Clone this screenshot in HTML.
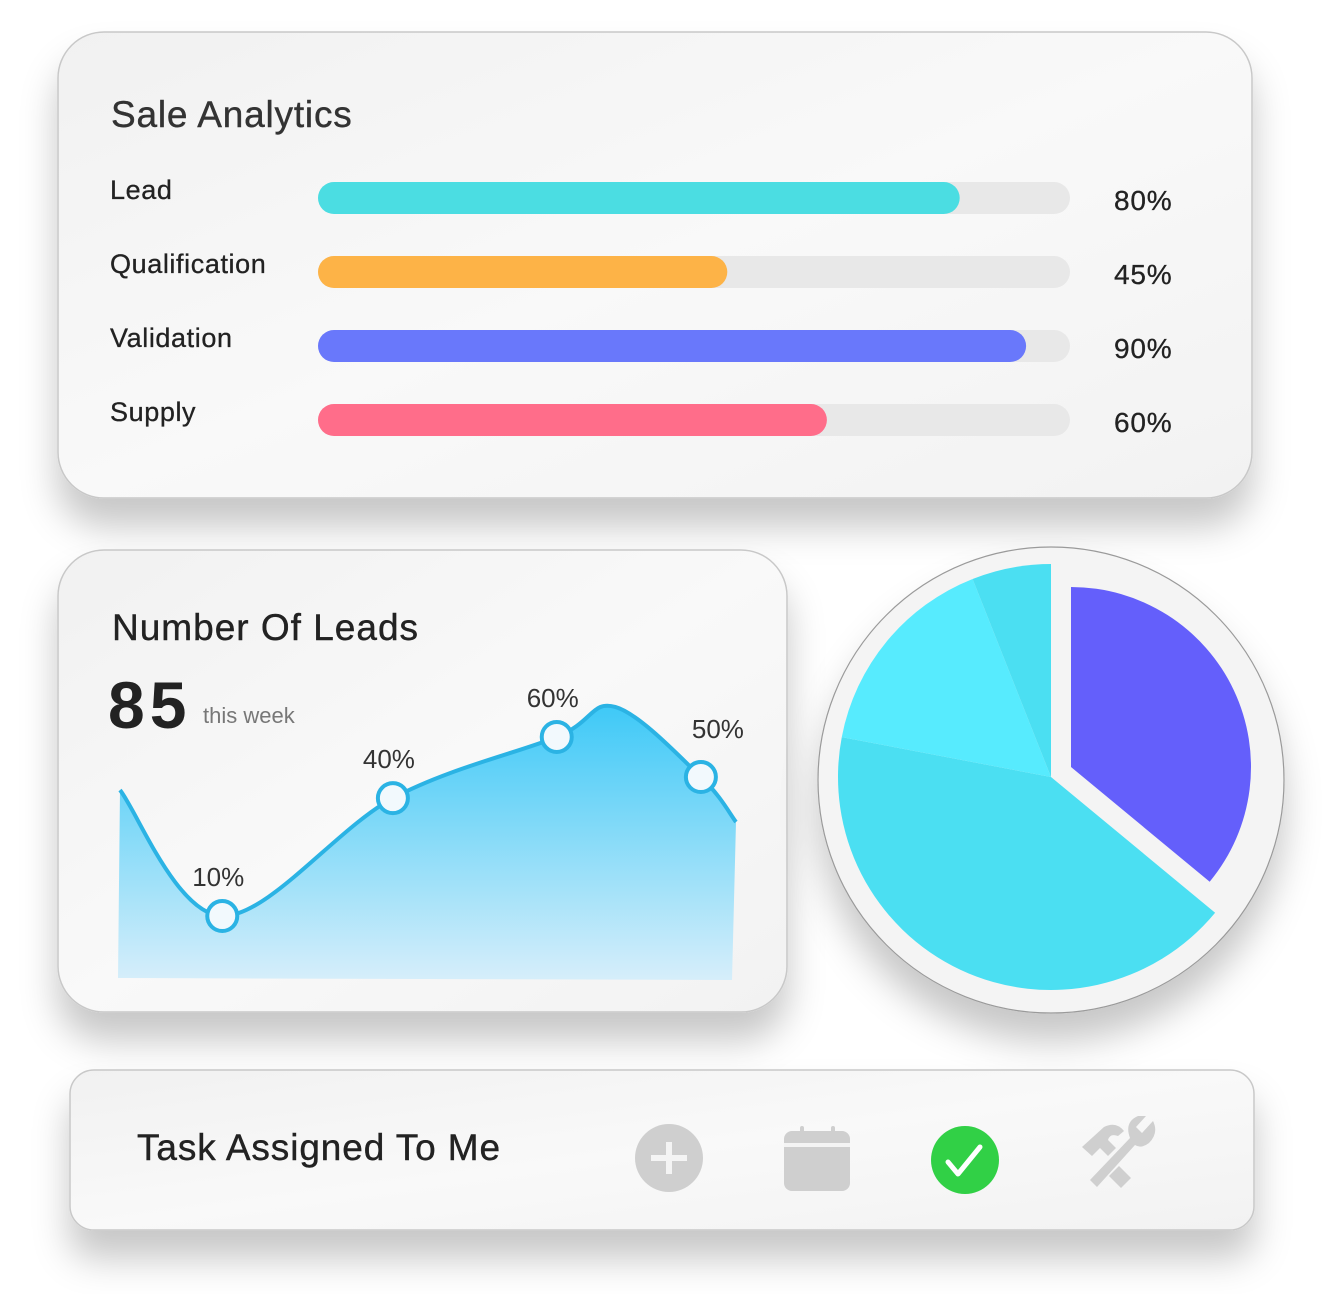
<!DOCTYPE html>
<html><head><meta charset="utf-8">
<style>
html,body{margin:0;padding:0;background:#fff;}
body{width:1338px;height:1315px;position:relative;overflow:hidden;font-family:"Liberation Sans",sans-serif;}
svg{position:absolute;left:0;top:0;}
</style></head>
<body>
<svg id="chart" width="1338" height="1315" viewBox="0 0 1338 1315" xmlns="http://www.w3.org/2000/svg">
<defs>
<linearGradient id="cardg" x1="0" y1="0" x2="1" y2="1"><stop offset="0" stop-color="#f1f1f1"/><stop offset="0.5" stop-color="#f9f9f9"/><stop offset="1" stop-color="#f2f2f2"/></linearGradient>
<linearGradient id="areag" x1="0" y1="0" x2="0" y2="1"><stop offset="0" stop-color="#3ec9f7"/><stop offset="1" stop-color="#d6eefa"/></linearGradient>
<filter id="sh" x="-20%" y="-20%" width="140%" height="160%"><feDropShadow dx="0" dy="28" stdDeviation="18" flood-color="#000" flood-opacity="0.22"/></filter>
</defs>
<g>
<rect x="58" y="32" width="1194" height="466" rx="46" fill="url(#cardg)" stroke="#c8c8c8" stroke-width="1.5" filter="url(#sh)"/>
<text x="111" y="127" font-size="37" fill="#333" letter-spacing="0.8" stroke="#333" stroke-width="0.4">Sale Analytics</text>
<g id="bars"></g>
</g>
<g>
<rect x="58" y="550" width="729" height="462" rx="46" fill="url(#cardg)" stroke="#c8c8c8" stroke-width="1.5" filter="url(#sh)"/>
<text x="112" y="640" font-size="37" fill="#222" letter-spacing="1" stroke="#222" stroke-width="0.4">Number Of Leads</text>
<text x="108" y="728" font-size="66" font-weight="bold" fill="#222" letter-spacing="5">85</text>
<text x="203" y="723" font-size="22" fill="#777">this week</text>
<g id="line"></g>
</g>
<g>
<circle cx="1051" cy="780" r="233" fill="#f4f4f4" stroke="#9a9a9a" stroke-width="1.2" filter="url(#sh)"/>
<g id="pie"></g>
</g>
<g>
<rect x="70" y="1070" width="1184" height="160" rx="24" fill="url(#cardg)" stroke="#c8c8c8" stroke-width="1.5" filter="url(#sh)"/>
<text x="137" y="1160" font-size="37" fill="#222" letter-spacing="0.9" stroke="#222" stroke-width="0.4">Task Assigned To Me</text>
<g><circle cx="669" cy="1158" r="34" fill="#cfcfcf"/><rect x="651" y="1155" width="36" height="6" fill="#f4f4f4"/><rect x="666" y="1142" width="6" height="32" fill="#f4f4f4"/></g>
<g><rect x="784" y="1131" width="66" height="60" rx="8" fill="#cfcfcf"/><rect x="784" y="1143" width="66" height="4" fill="#f4f4f4"/><rect x="800" y="1126" width="4" height="8" rx="2" fill="#cfcfcf"/><rect x="831" y="1126" width="4" height="8" rx="2" fill="#cfcfcf"/></g>
<g><ellipse cx="965" cy="1160" rx="34" ry="34" fill="#31d046"/><polyline points="948,1162 958,1174 980,1147" fill="none" stroke="#fff" stroke-width="5" stroke-linecap="round" stroke-linejoin="round"/></g>
<g fill="#cfcfcf" transform="translate(20,2)">
<path d="M1062,1145 l22,-20 q12,-6 20,4 l-6,5 q-8,-3 -10,4 l8,8 -8,8 -8,-8 -8,8 z"/>
<path d="M1070,1178 l40,-42 q-6,-16 8,-22 l8,0 -10,11 6,6 11,-12 q6,12 -4,22 q-8,6 -14,2 l-38,42 z"/>
<path d="M1089,1174 l10,-10 12,12 -10,10 z"/>
</g>
</g>
</svg>
<script>
const NS='http://www.w3.org/2000/svg';
// bar data
const barLabels=['Lead','Qualification','Validation','Supply'];
const barValues=[80,45,90,60];
const barColors=['#4bdde2','#fdb347','#6978fb','#ff6d8a'];
// line data
const lineX=[0,16.6,44.3,70.9,80.4,94.3,100];
const lineY=[67.6,22.3,64.7,86.7,97.5,72.3,56.1];
const markerIdx=[1,2,3,5];
const markerLabels=['10%','40%','60%','50%'];
// pie data
const pieValues=[36,42,16,6];
const pieColors=['#645ffb','#4bdff2','#57ebfe','#4bdff2'];

function mk(tag,attrs,parent){const e=document.createElementNS(NS,tag);for(const k in attrs)e.setAttribute(k,attrs[k]);parent.appendChild(e);return e;}

// bars
const bx=v=>428.5+6.64*v;
const bars=document.getElementById('bars');
barValues.forEach((v,i)=>{
  const cy=198+74*i;
  const lab=mk('text',{x:110,y:cy+1,'font-size':27,fill:'#222','letter-spacing':0.6,stroke:'#222','stroke-width':0.3},bars);
  
  
  lab.textContent=barLabels[i];
  const tr=mk('rect',{x:318,y:cy-16,width:752,height:32,rx:16,fill:'#e8e8e8'},bars);
  
  
  const f=mk('rect',{x:318,y:cy-16,width:bx(v)-318,height:32,rx:16,fill:barColors[i]},bars);
  
  
  const t=mk('text',{x:1114,y:cy+12,'font-size':28,fill:'#222','letter-spacing':0.8,stroke:'#222','stroke-width':0.3},bars);
  
  
  t.textContent=v+'%';
});

// line
const lx=v=>120+v*6.16, ly=v=>978-v*2.78;
const pts=lineX.map((x,i)=>[lx(x),ly(lineY[i])]);
function cr(p){let d='M'+p[0][0]+','+p[0][1];for(let i=0;i<p.length-1;i++){const p0=p[Math.max(0,i-1)],p1=p[i],p2=p[i+1],p3=p[Math.min(p.length-1,i+2)];const c1=[p1[0]+(p2[0]-p0[0])/6,p1[1]+(p2[1]-p0[1])/6],c2=[p2[0]-(p3[0]-p1[0])/6,p2[1]-(p3[1]-p1[1])/6];d+=' C'+c1+' '+c2+' '+p2;}return d;}
const lg=document.getElementById('line');
const d=cr(pts);
const area=mk('path',{d:d+' L'+(lx(100)-4)+',980 L118,978 Z',fill:'url(#areag)'},lg);


const ln=mk('path',{d:d,fill:'none',stroke:'#2bb3e4','stroke-width':4},lg);


markerIdx.forEach((k,i)=>{
  const [x,y]=pts[k];
  const c=mk('circle',{cx:x,cy:y,r:15,fill:'#f2f9fd',stroke:'#2bb3e4','stroke-width':4},lg);
  
  
  const t=mk('text',{x:x-4,y:y-30,'font-size':26,fill:'#333','text-anchor':'middle'},lg);
  if(i===3){t.setAttribute('x',x+17);t.setAttribute('y',y-39);}
  
  
  t.textContent=markerLabels[i];
});

// pie
const pg=document.getElementById('pie');
const tot=pieValues.reduce((a,b)=>a+b,0);
let a0=0;
pieValues.forEach((v,i)=>{
  const a1=a0+v/tot*360;
  let cx=1051,cy=777,r=213;
  if(i===0){cx=1071;cy=767;r=180;}
  const p=(a)=>{const t=(a-90)*Math.PI/180;return [cx+r*Math.cos(t),cy+r*Math.sin(t)];};
  const s=p(a0),e=p(a1),large=(a1-a0)>180?1:0;
  const s1=mk('path',{d:`M${cx},${cy} L${s} A${r},${r} 0 ${large} 1 ${e} Z`,fill:pieColors[i]},pg);
  
  
  a0=a1;
});
</script>
</body></html>
